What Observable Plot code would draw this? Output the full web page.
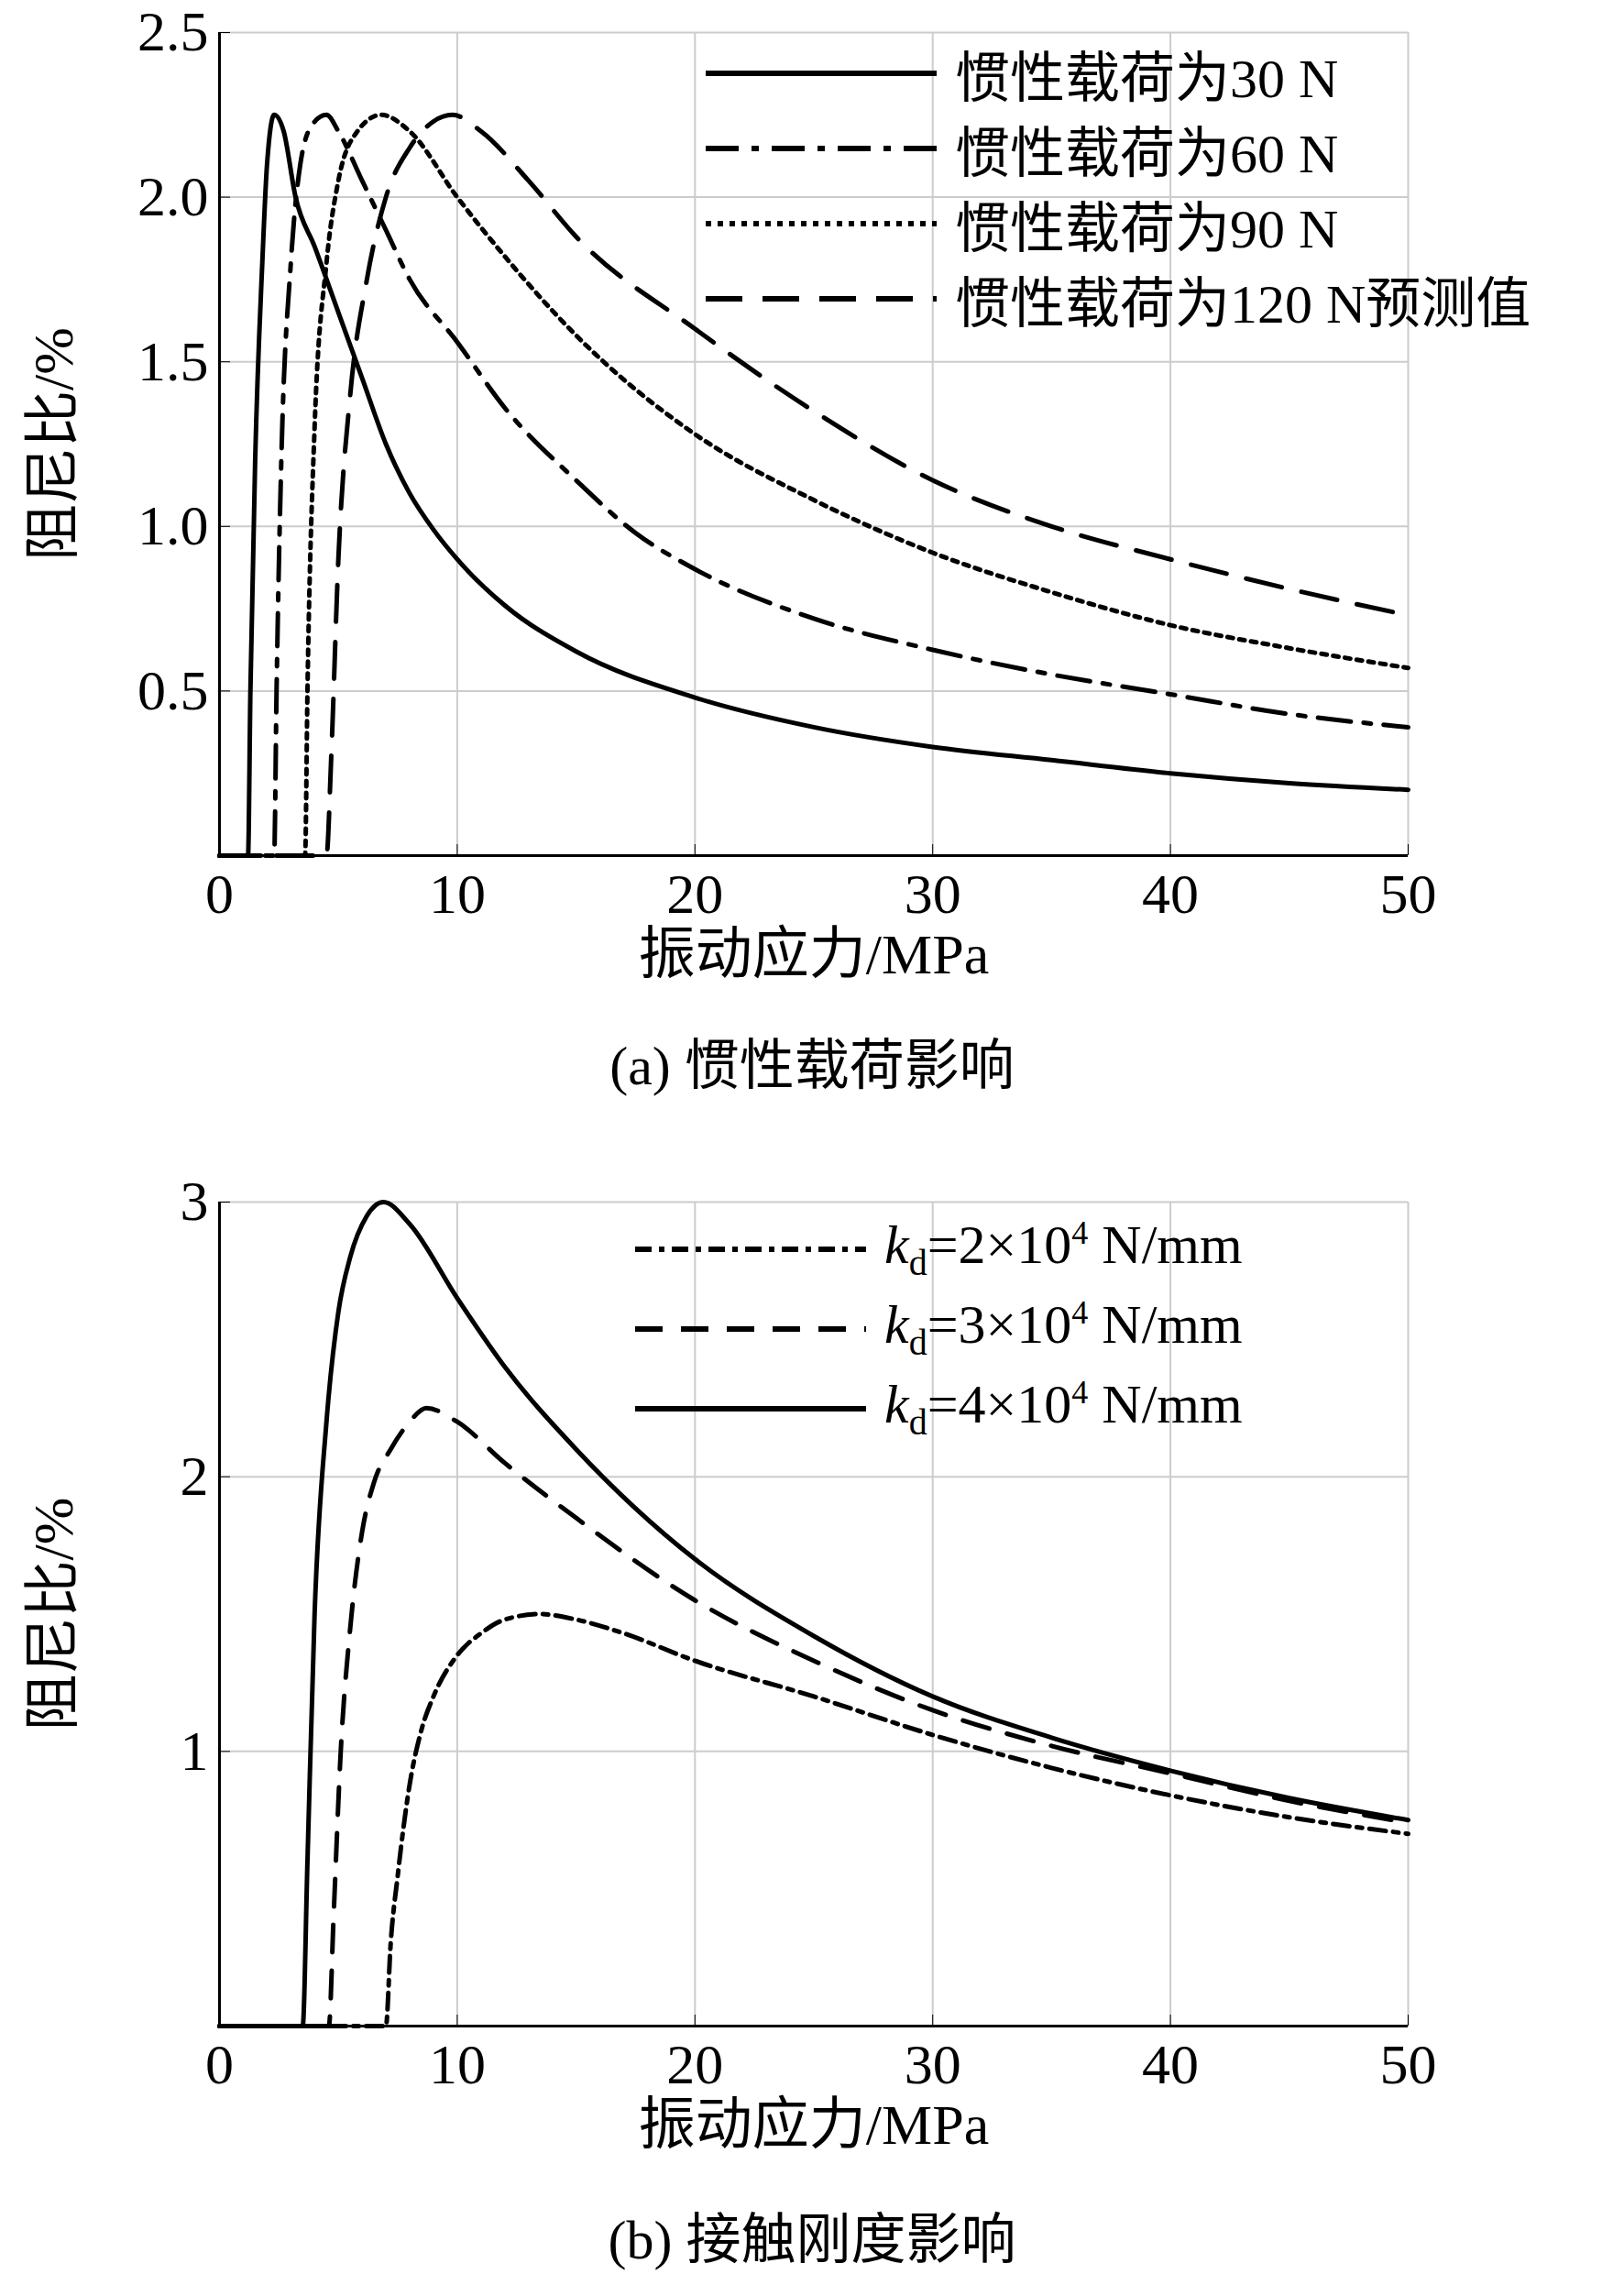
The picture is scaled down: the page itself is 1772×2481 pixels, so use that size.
<!DOCTYPE html>
<html><head><meta charset="utf-8">
<script src="https://cdn.jsdelivr.net/npm/d3@7"></script>
<script src="https://cdn.jsdelivr.net/npm/@observablehq/plot@0.6"></script>
<style>
body{margin:0;background:#fff;width:1772px;height:2481px;position:relative;font-family:"Liberation Serif","Noto Sans CJK SC",serif;}
.abs{position:absolute;}
.cap{position:absolute;left:0;width:1772px;text-align:center;font-size:60px;font-family:"Liberation Serif","Noto Sans CJK SC",serif;}
.leg{position:absolute;font-size:60px;font-family:"Liberation Serif","Noto Sans CJK SC",serif;display:flex;align-items:center;white-space:nowrap;}
.leg svg{margin-right:20px}
</style></head><body>
<div id="a" class="abs" style="left:0;top:0"></div>
<div id="b" class="abs" style="left:0;top:1200px"></div>
<div class="cap" style="top:1113px">(a) 惯性载荷影响</div>
<div class="cap" style="top:2394px">(b) 接触刚度影响</div>
<div id="legA"></div><div id="legB"></div>
<script>
// Panel (a): inertial load
const xA30 = [0,1.2,1.3,1.5,1.8,2.0,2.3,2.7,3.2,4,5,6,7,8,9,10,12,15,20,25,30,35,40,45,50];
const yA30 = [0,0,0.5,1.2,1.8,2.1,2.25,2.2,2.0,1.85,1.65,1.45,1.25,1.1,0.99,0.9,0.76,0.62,0.48,0.39,0.33,0.29,0.25,0.22,0.2];
const xA60 = [0,2.3,2.4,2.6,3.0,3.4,3.9,4.5,5,6,7,8,10,12,15,17.5,20,25,30,35,40,45,50];
const yA60 = [0,0,0.5,1.2,1.8,2.1,2.22,2.25,2.2,2.05,1.9,1.75,1.56,1.36,1.14,0.98,0.87,0.72,0.625,0.55,0.49,0.43,0.39];
const xA90 = [0,3.6,3.7,4.0,4.5,5.0,5.8,6.8,8,10,12,15,20,25,30,35,40,45,50];
const yA90 = [0,0,0.5,1.3,1.8,2.05,2.2,2.25,2.2,2.0,1.82,1.58,1.28,1.08,0.92,0.8,0.7,0.63,0.57];
const xA120 = [0,4.5,4.7,5.0,5.5,6.2,7.0,8.0,9.0,9.8,11,13,15,20,25,30,35,40,45,50];
const yA120 = [0,0,0.3,0.9,1.4,1.75,2.0,2.15,2.23,2.25,2.2,2.05,1.88,1.6,1.35,1.14,1.0,0.9,0.81,0.73];
const namesA = ["惯性载荷为30 N","惯性载荷为60 N","惯性载荷为90 N","惯性载荷为120 N预测值"];
// Panel (b): contact stiffness
const xB2 = [0,7.0,7.2,7.5,8,8.5,9,10,11,12,13.5,15,17,20,25,30,35,40,45,50];
const yB2 = [0,0,0.3,0.55,0.88,1.08,1.2,1.35,1.43,1.48,1.5,1.48,1.43,1.33,1.2,1.06,0.94,0.84,0.76,0.7];
const xB3 = [0,4.6,4.8,5.1,5.5,6,6.5,7.2,8,8.7,10,12,15,20,25,30,35,40,45,50];
const yB3 = [0,0,0.4,1.0,1.45,1.8,1.98,2.1,2.2,2.25,2.2,2.05,1.85,1.55,1.33,1.15,1.02,0.92,0.82,0.74];
const xB4 = [0,3.5,3.7,4.0,4.5,5.0,5.5,6.2,6.9,8,10,12,15,20,25,30,35,40,45,50];
const yB4 = [0,0,0.6,1.5,2.2,2.6,2.8,2.95,3.0,2.92,2.65,2.4,2.1,1.7,1.42,1.2,1.05,0.93,0.83,0.75];
const namesB = ["2","3","4"];
const xTicks = [0,10,20,30,40,50];
const yTicksA = [0.5,1.0,1.5,2.0,2.5];
const yTicksB = [1,2,3];

const rows = (xs, ys, s) => xs.map((x,i)=>({x, y: ys[i], s}));
const font = '"Liberation Serif","Noto Sans CJK SC",serif';

function panel(series, styles, yDomain, yTicks, yFmt, mt, mb, h) {
  const marks = [
    Plot.gridX(xTicks.slice(1), {stroke:"#ccc", strokeOpacity:1, strokeWidth:2}),
    Plot.gridY(yTicks, {stroke:"#ccc", strokeOpacity:1, strokeWidth:2}),
  ];
  series.forEach((d,i)=>marks.push(Plot.line(d,{x:"x",y:"y",stroke:"#000",strokeWidth:5,strokeDasharray:styles[i],curve:"monotone-x"})));
  marks.push(Plot.ruleX([0],{stroke:"#000",strokeWidth:3}));
  marks.push(Plot.ruleY([yDomain[0]],{stroke:"#000",strokeWidth:3}));
  marks.push(Plot.axisX({ticks:xTicks, tickSize:-12, tickPadding:30, label:"振动应力/MPa", labelAnchor:"center", labelOffset:128, labelArrow:"none", fill:"#000"}));
  marks.push(Plot.axisY({ticks:yTicks, tickSize:-12, tickPadding:24, tickFormat:yFmt, label:"阻尼比/%", labelAnchor:"center", labelOffset:205, labelArrow:"none", fill:"#000"}));
  return Plot.plot({
    width:1772, height:h, marginLeft:239, marginRight:236, marginTop:mt, marginBottom:mb,
    style:{fontFamily:font, fontSize:"62px", color:"#000", background:"#fff", overflow:"visible"},
    x:{domain:[0,50]}, y:{domain:yDomain},
    marks
  });
}
const sA = [rows(xA30,yA30,0),rows(xA60,yA60,1),rows(xA90,yA90,2),rows(xA120,yA120,3)];
const stA = [null,"36,14,8,14","6,7","40,22"];
document.getElementById("a").append(panel(sA, stA, [0,2.5], yTicksA, d3.format(".1f"), 35, 167, 1100));
const sB = [rows(xB2,yB2,0),rows(xB3,yB3,1),rows(xB4,yB4,2)];
const stB = ["18,8,6,8","30,20",null];
document.getElementById("b").append(panel(sB, stB, [0,3], yTicksB, d3.format("d"), 111, 190, 1200));

function legend(el, items, top, left, lineW, gap) {
  items.forEach((it,i)=>{
    const d = document.createElement("div");
    d.className="leg"; d.style.top=(top+i*gap-40)+"px"; d.style.left=left+"px";
    d.innerHTML = `<svg width="${lineW}" height="20"><line x1="0" y1="10" x2="${lineW}" y2="10" stroke="#000" stroke-width="6" ${it.dash?`stroke-dasharray="${it.dash}"`:""}/></svg><span>${it.label}</span>`;
    el.append(d);
  });
}
legend(document.getElementById("legA"), namesA.map((n,i)=>({label:n,dash:stA[i]})), 76, 770, 252, 82);
legend(document.getElementById("legB"), namesB.map((n,i)=>({label:`<i>k</i><sub style="font-size:40px">d</sub>=${n}×10<sup style="font-size:36px">4</sup> N/mm`,dash:stB[i]})), 1364, 693, 252, 87);
</script></body></html>
